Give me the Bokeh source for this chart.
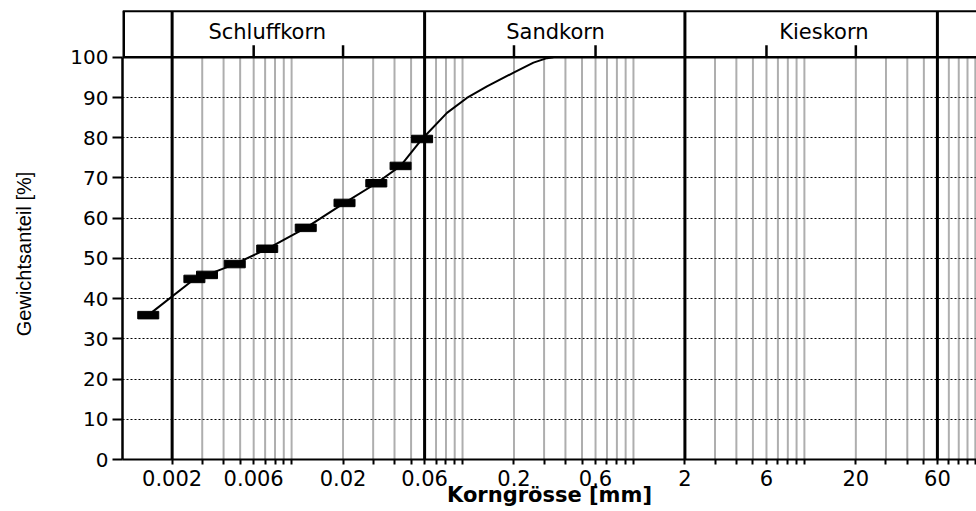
from bokeh.plotting import figure
from bokeh.models import Range1d, FixedTicker, Span
from bokeh.core.properties import value
from bokeh.embed import file_html
from bokeh.resources import INLINE

# ---- data ----
sieve_d = [0.00145, 0.0027, 0.0032, 0.00465, 0.0072, 0.0121, 0.0204, 0.0313, 0.0434, 0.058]
passing = [35.9, 44.9, 45.9, 48.6, 52.4, 57.6, 63.8, 68.7, 73.0, 79.7]
curve_d = [0.0811, 0.106, 0.139, 0.199, 0.260, 0.312, 0.340]
curve_p = [86.2, 89.9, 92.8, 96.2, 98.7, 99.8, 100.0]

y_ticks = [0, 10, 20, 30, 40, 50, 60, 70, 80, 90, 100]
x_label_ticks = [0.002, 0.006, 0.02, 0.06, 0.2, 0.6, 2, 6, 20, 60]
x_label_texts = ["0.002", "0.006", "0.02", "0.06", "0.2", "0.6", "2", "6", "20", "60"]
class_bounds = [0.002, 0.06, 2, 60]
class_names = ["Schluffkorn", "Sandkorn", "Kieskorn"]
class_name_x = [0.0072, 0.35, 13.0]
sub_bounds = [0.006, 0.02, 0.2, 0.6, 6, 20]

# log grid: k * 10^e
grid_ticks = sorted({round(k * 10.0 ** e, 6) for e in range(-3, 2) for k in range(1, 10)} | {100.0})

X_START, X_END = 0.001025, 101.6
Y_TOP = 111.9      # frame top
HDR_TOP = 111.44   # header top line
HDR_MID = 106.4
SUB_TOP = 103.0
NBSP = "\u00a0"

p = figure(width=976, height=511, x_axis_type="log",
           x_range=Range1d(X_START, X_END), y_range=Range1d(0, Y_TOP),
           output_backend="svg", toolbar_location=None,
           min_border_left=122, min_border_right=0, min_border_top=9, min_border_bottom=52)
p.outline_line_color = None
p.background_fill_color = "white"
p.border_fill_color = "white"

# grids
p.xgrid.visible = False
p.ygrid.grid_line_color = "black"
p.ygrid.grid_line_dash = "2 2"
p.ygrid.grid_line_width = 1

# vertical fine grid (inside 0..100 only)
p.segment(x0=grid_ticks, y0=[0] * len(grid_ticks), x1=grid_ticks, y1=[100] * len(grid_ticks),
          line_color="#5e5e5e", line_width=2, line_dash="1 1")

# bold class boundaries, through the header
p.segment(x0=class_bounds, y0=[0] * len(class_bounds), x1=class_bounds, y1=[HDR_TOP] * len(class_bounds),
          line_color="black", line_width=3)
# left edge of header
p.segment(x0=[X_START], y0=[100], x1=[X_START], y1=[HDR_TOP], line_color="black", line_width=5)
# short sub-division marks in header
p.segment(x0=sub_bounds, y0=[100] * len(sub_bounds), x1=sub_bounds, y1=[SUB_TOP] * len(sub_bounds),
          line_color="black", line_width=2.5)

p.add_layout(Span(location=100, dimension="width", line_color="black", line_width=2.5))
p.add_layout(Span(location=HDR_TOP, dimension="width", line_color="black", line_width=2))

p.text(x=class_name_x, y=[HDR_MID] * len(class_names), text=class_names,
       text_font=value("DejaVu Sans"), text_font_size="21px", text_color="black",
       text_align="center", text_baseline="middle")

# grading curve
p.line(x=sieve_d + curve_d, y=passing + curve_p, line_color="black", line_width=2)
p.rect(x=sieve_d, y=passing, width=21, height=7.5, width_units="screen", height_units="screen",
       fill_color="black", line_color="black")

# axes
xa = p.xaxis[0]
xa.ticker = FixedTicker(ticks=grid_ticks, minor_ticks=[])
overrides = {t: "" for t in grid_ticks}
for t, s in zip(x_label_ticks, x_label_texts):
    overrides[float(t)] = s
xa.major_label_overrides = overrides
xa.axis_line_width = 2
xa.axis_line_color = "black"
xa.major_tick_out = 5
xa.major_tick_in = 0
xa.major_tick_line_width = 2
xa.minor_tick_line_color = None
xa.major_label_standoff = 5
xa.major_label_text_font = "DejaVu Sans"
xa.major_label_text_font_size = "21px"
xa.major_label_text_color = "black"
xa.axis_label = "Korngrösse [mm]"
xa.axis_label_text_font = "DejaVu Sans"
xa.axis_label_text_font_size = "21px"
xa.axis_label_text_font_style = "bold"
xa.axis_label_text_color = "black"
xa.axis_label_standoff = -6

ya = p.yaxis[0]
ya.ticker = FixedTicker(ticks=y_ticks, minor_ticks=[])
ya.bounds = (0, 100)
ya.axis_line_width = 2.5
ya.axis_line_color = "black"
ya.major_tick_out = 10
ya.major_tick_in = 0
ya.major_tick_line_width = 2
ya.minor_tick_line_color = None
ya.major_label_standoff = 4
ya.major_label_text_font = "DejaVu Sans"
ya.major_label_text_font_size = "20px"
ya.major_label_text_color = "black"
ya.axis_label = "Gewichtsanteil [%]" + NBSP * 7
ya.axis_label_text_font = "Liberation Sans"
ya.axis_label_text_font_size = "20px"
ya.axis_label_text_font_style = "normal"
ya.axis_label_text_color = "black"
ya.axis_label_standoff = 32

open("out.html", "w").write(file_html(p, INLINE))
